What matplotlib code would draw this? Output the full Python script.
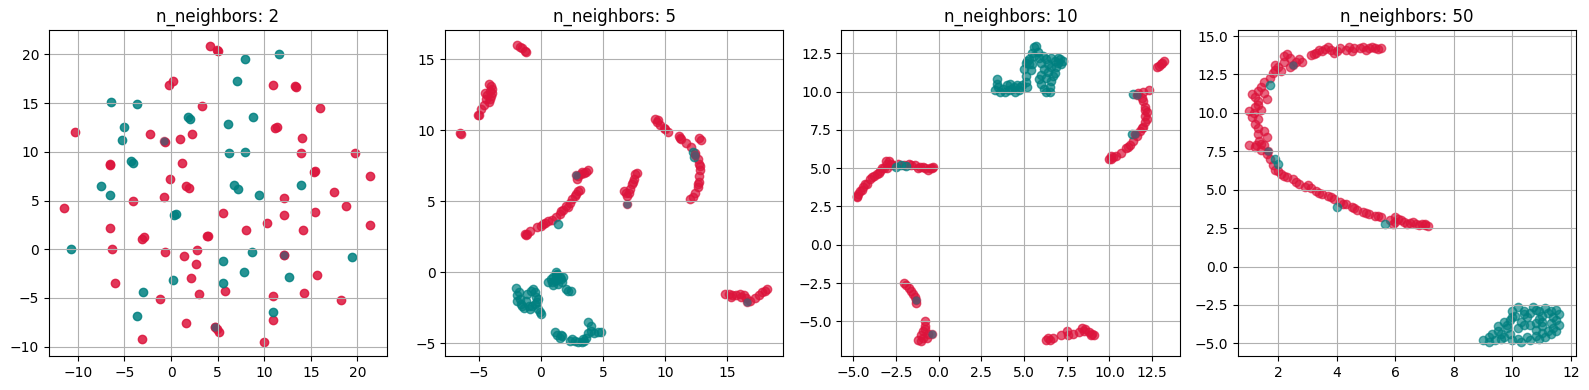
import matplotlib
matplotlib.use("Agg")
import matplotlib.pyplot as plt
import numpy as np

TITLES = ["n_neighbors: 2", "n_neighbors: 5", "n_neighbors: 10", "n_neighbors: 50"]
RED = "crimson"
TEAL = "teal"
MIXED = "#58536c"

# ── n_neighbors = 2 ─────────────────────────────────────────────────────────
nn2_red = [
    (4.2, 20.9), (5.0, 20.3), (4.9, 20.4), (-0.2, 16.9), (0.2, 17.3), (11.0, 16.9),
    (13.3, 16.8), (13.4, 16.7), (16.0, 14.5), (3.3, 14.7), (11.2, 12.4), (11.4, 12.5),
    (-10.3, 12.0), (-2.3, 11.8), (1.0, 11.3), (2.3, 11.8), (-0.6, 11.0), (14.1, 11.4),
    (13.9, 9.9), (19.7, 9.9), (-6.5, 8.6), (-6.6, 8.7), (1.2, 8.9), (15.3, 7.9),
    (15.5, 8.0), (21.4, 7.5), (-0.1, 7.2), (1.6, 6.5), (1.9, 6.3), (17.5, 5.9),
    (-0.7, 5.4), (12.1, 5.3), (-4.1, 4.9), (18.8, 4.4), (-11.5, 4.2), (5.6, 3.7),
    (12.1, 3.5), (15.5, 3.8), (-6.6, 2.2), (8.0, 2.0), (10.3, 2.7), (14.2, 2.0),
    (21.4, 2.5), (-3.1, 1.1), (-2.9, 1.3), (3.9, 1.4), (4.0, 1.4), (-6.3, 0.0),
    (-0.6, -0.3), (2.8, -0.1), (1.4, -0.7), (2.7, -1.5), (15.7, -2.6), (-6.0, -3.5),
    (2.1, -3.0), (5.8, -4.3), (3.0, -4.6), (14.3, -4.5), (-1.2, -5.1), (11.0, -4.8),
    (18.2, -5.2), (1.6, -7.6), (10.9, -7.3), (-3.1, -9.2), (5.1, -8.5), (4.9, -8.2),
    (10.0, -9.5), (12.1, -0.6), (4.7, -8.0),
]
nn2_teal = [
    (11.6, 20.0), (7.9, 19.5), (7.1, 17.3), (-6.4, 15.1), (-3.7, 14.9), (1.8, 13.6),
    (2.0, 13.4), (8.8, 13.6), (6.1, 12.9), (-5.0, 12.5), (-5.3, 11.2), (6.2, 9.9),
    (7.9, 10.0), (-4.3, 9.1), (-4.1, 8.9), (6.8, 6.6), (7.2, 6.2), (-7.5, 6.5),
    (-6.6, 5.6), (9.4, 5.6), (13.9, 6.6), (0.3, 3.5), (0.5, 3.6), (-10.7, 0.0),
    (8.7, -0.3), (19.4, -0.8), (5.6, -1.2), (0.2, -3.2), (7.8, -2.3), (12.7, -2.9),
    (-3.0, -4.4), (5.6, -3.5), (-3.6, -6.9), (11.0, -6.4),
]
nn2_mixed = [(-0.8, 11.1), (12.1, -0.6), (4.7, -8.0)]

# ── n_neighbors = 5 ─────────────────────────────────────────────────────────
nn5_red = [
    (-1.9, 16.0), (-1.7, 15.9), (-1.5, 15.8), (-1.3, 15.6), (-1.2, 15.5),
    (-4.2, 13.3), (-4.0, 13.1), (-4.1, 12.8), (-3.9, 12.9), (-4.3, 12.5), (-4.0, 12.4),
    (-4.4, 12.2), (-4.1, 12.2), (-4.6, 11.8), (-4.8, 11.5), (-5.0, 11.1), (-5.1, 11.1),
    (-4.2, 12.0), (-3.9, 12.6), (-4.5, 12.6),
    (-6.5, 9.8), (-6.4, 9.75),
    (-1.3, 2.7), (-1.1, 2.7), (-0.9, 2.9), (-0.3, 3.2), (0.0, 3.3), (0.3, 3.5),
    (0.6, 3.6), (0.9, 3.7), (1.2, 3.9), (1.5, 4.1), (1.8, 4.4), (2.0, 4.7), (2.3, 4.9),
    (2.5, 5.2), (2.8, 5.5), (3.0, 5.7), (3.0, 6.8), (3.2, 6.9), (3.5, 7.0), (3.8, 7.2),
    (2.9, 6.6), (-1.2, 2.6), (0.2, 3.4), (1.6, 4.3), (2.2, 4.6), (2.7, 5.4), (3.1, 5.8),
    (3.3, 7.1), (3.6, 7.1),
    (6.8, 5.6), (6.9, 5.4), (7.1, 5.6), (7.2, 5.9), (7.3, 6.2), (7.5, 6.6), (7.6, 6.9),
    (7.7, 7.0), (6.7, 5.7), (7.4, 6.4),
    (9.2, 10.8), (9.3, 10.6), (9.6, 10.4), (10.0, 10.1), (10.2, 9.9), (11.1, 9.6),
    (11.3, 9.4), (11.7, 9.1), (12.1, 8.8), (12.4, 8.4), (12.6, 8.0), (12.7, 7.6),
    (12.8, 7.2), (12.7, 6.8), (12.7, 6.4), (12.6, 6.0), (12.4, 5.6), (12.2, 5.3),
    (12.0, 5.2), (12.7, 9.5), (12.9, 9.3), (9.4, 10.7), (9.9, 10.2), (11.2, 9.5),
    (12.8, 7.5), (12.6, 6.2),
    (14.8, -1.5), (15.1, -1.5), (15.4, -1.6), (15.7, -1.6), (16.0, -1.5), (16.3, -1.6),
    (16.5, -1.8), (16.8, -2.0), (17.2, -1.8), (17.5, -1.6), (17.8, -1.4), (18.0, -1.3),
    (18.2, -1.2), (15.3, -1.7), (16.1, -1.7),
]
nn5_teal = [
    (1.4, 3.4), (12.2, 8.5), (12.3, 8.1),
    (-2.0, -1.1), (-1.8, -1.4), (-1.7, -1.9), (-1.9, -2.0), (-1.6, -2.2), (-1.4, -2.5),
    (-1.2, -2.0), (-1.1, -1.5), (-0.8, -1.3), (-0.5, -1.4), (-0.4, -1.7), (-0.2, -1.9),
    (-0.5, -2.2), (-0.7, -2.4), (-0.9, -2.6), (-0.1, -2.8), (0.0, -2.9), (-0.2, -2.6),
    (-1.9, -1.6), (-1.5, -2.4), (-0.6, -1.2), (-0.3, -2.1), (-1.0, -2.4),
    (0.6, -0.7), (0.8, -0.5), (1.0, -0.3), (1.1, -0.6), (1.2, -0.2), (1.3, -0.1),
    (1.5, -0.3), (1.6, -0.5), (1.4, -0.8), (1.0, -0.9), (1.8, -0.3), (2.0, -1.2),
    (2.2, -1.3), (2.4, -1.3), (0.9, -0.7), (1.3, -0.5), (1.7, -0.7), (1.2, 0.0),
    (1.1, -4.2), (1.3, -4.4), (1.5, -4.6), (1.7, -4.5), (2.3, -4.8), (2.7, -4.8),
    (3.0, -4.9), (3.3, -4.9), (3.6, -4.6), (3.8, -4.3), (4.0, -4.1), (3.8, -3.5),
    (4.0, -3.8), (4.3, -4.3), (4.6, -4.2), (4.8, -4.2), (2.5, -4.7), (3.4, -4.7),
    (3.5, -4.8), (1.6, -4.4),
]
nn5_mixed = [(2.8, 6.85), (6.9, 4.8), (12.4, 8.3), (16.6, -2.1)]

# ── n_neighbors = 10 ────────────────────────────────────────────────────────
nn10_red = [
    (-4.8, 3.1), (-4.7, 3.3), (-4.6, 3.5), (-4.4, 3.8), (-4.2, 4.0), (-4.0, 4.3),
    (-3.8, 4.5), (-3.6, 4.6), (-3.4, 4.8), (-3.2, 5.0), (-3.0, 5.3), (-3.1, 5.5),
    (-2.9, 5.5), (-2.7, 5.2), (-2.4, 5.3), (-2.0, 5.2), (-1.7, 5.3), (-1.4, 5.2),
    (-1.1, 5.1), (-0.8, 5.0), (-0.5, 5.0), (-0.3, 5.05),
    (-4.75, 3.2), (-4.5, 3.6), (-4.3, 4.0), (-3.9, 4.4), (-3.5, 4.7), (-3.3, 5.0),
    (-3.0, 5.0), (-2.8, 5.3), (-1.6, 5.2), (-1.2, 5.0), (-0.9, 5.1), (-0.6, 4.9),
    (-0.4, 5.0),
    (10.0, 5.6), (10.2, 5.7), (10.4, 5.8), (10.7, 6.0), (11.0, 6.3), (11.2, 6.5),
    (11.4, 6.8), (11.6, 7.1), (11.8, 7.4), (12.0, 7.7), (12.1, 8.0), (12.1, 8.4),
    (12.2, 8.7), (12.1, 9.0), (12.0, 9.4), (11.9, 9.6), (11.7, 9.9), (12.0, 10.0),
    (12.3, 10.1), (10.1, 5.8), (10.1, 5.6), (11.1, 6.4), (11.9, 7.6), (12.2, 8.2),
    (12.1, 8.8),
    (12.8, 11.6), (12.9, 11.7), (13.0, 11.8), (13.1, 11.9), (13.2, 12.0),
    (-2.0, -2.5), (-1.9, -2.6), (-1.7, -2.8), (-1.6, -3.0), (-1.5, -3.2), (-1.4, -3.4),
    (-1.3, -3.8),
    (-0.8, -5.0), (-0.8, -5.3), (-0.9, -5.6), (-1.0, -5.9), (-1.2, -6.2), (-1.0, -6.3),
    (-0.7, -6.1), (-0.6, -5.8), (-0.9, -6.1), (-0.8, -5.5),
    (6.3, -6.2), (6.5, -6.2), (6.7, -6.1), (7.2, -5.9), (7.5, -5.6), (7.6, -5.9),
    (7.9, -5.8), (8.2, -5.7), (8.4, -5.4), (8.6, -5.5), (8.8, -5.7), (9.0, -5.8),
    (9.1, -5.9), (6.4, -6.1), (8.5, -5.6), (8.9, -5.9),
]
nn10_teal = [
    (-2.5, 5.1), (-2.2, 5.2), (-1.9, 5.15), (11.4, 9.85), (11.3, 7.2),
    (3.4, 10.8), (3.4, 10.5), (3.3, 10.1), (3.6, 10.0), (3.8, 10.2), (4.0, 10.4),
    (4.2, 10.5), (4.4, 10.3), (4.5, 10.0), (4.7, 10.1), (4.9, 10.4), (5.1, 10.6),
    (5.1, 11.0), (5.0, 11.5), (5.1, 11.9), (5.3, 12.1), (5.5, 11.8), (5.6, 12.3),
    (5.6, 12.9), (5.7, 13.0), (5.8, 12.6), (6.1, 12.3), (6.3, 12.1), (6.0, 11.9),
    (6.6, 12.2), (6.8, 12.0), (7.0, 11.9), (7.2, 11.8), (6.9, 11.6), (6.2, 11.5),
    (6.4, 11.3), (6.3, 10.9), (6.6, 10.7), (6.5, 10.3), (6.3, 10.0), (6.0, 10.5),
    (5.9, 10.8), (6.7, 11.0), (7.1, 12.1), (5.4, 11.4), (4.8, 10.3),
    (3.5, 10.3), (3.9, 10.0), (4.1, 10.1), (4.3, 10.2), (4.6, 10.4), (5.2, 10.3),
    (5.3, 11.8), (5.5, 12.5), (5.9, 12.2), (6.4, 11.8), (6.6, 11.6), (6.8, 11.2),
    (6.5, 10.0), (6.2, 10.2), (7.3, 12.0), (7.0, 12.2), (5.2, 12.0), (6.0, 11.1),
]
nn10_mixed = [(11.6, 9.8), (11.5, 7.2), (-1.3, -3.6), (-0.4, -5.8)]

# ── n_neighbors = 50 ────────────────────────────────────────────────────────
nn50_red = [
    (5.3, 14.2), (5.2, 14.3), (5.0, 14.1), (4.8, 14.2), (4.6, 14.2), (4.3, 14.1),
    (4.1, 14.2), (4.0, 14.05), (3.8, 14.1), (3.6, 14.15), (3.5, 14.0), (3.3, 13.9),
    (3.1, 13.75), (2.6, 13.3), (2.4, 13.6), (2.3, 13.8), (2.2, 13.3), (2.0, 13.0),
    (1.9, 12.8), (1.8, 12.6), (1.7, 12.3), (1.5, 12.0), (1.4, 11.7), (1.3, 11.4),
    (1.2, 11.0), (1.3, 10.8), (1.2, 10.4), (1.15, 10.0), (1.1, 9.7), (1.2, 9.3),
    (1.3, 9.0), (1.3, 8.6), (1.35, 8.2), (1.2, 7.8), (1.4, 7.6), (1.5, 7.9),
    (1.6, 7.3), (1.7, 7.0), (1.8, 6.6), (1.9, 6.3), (2.1, 6.0), (2.3, 5.8),
    (2.5, 5.7), (2.7, 5.4), (2.9, 5.2), (3.1, 5.1), (3.3, 4.9), (3.5, 4.75),
    (3.7, 4.6), (3.9, 4.4), (4.1, 4.2), (4.3, 4.05), (4.5, 3.85), (4.7, 3.7),
    (4.9, 3.55), (5.1, 3.4), (5.3, 3.3), (5.5, 3.2), (5.8, 3.0), (6.0, 2.9),
    (6.1, 3.1), (6.3, 2.9), (6.5, 2.85), (6.7, 2.75), (6.9, 2.8), (7.0, 2.7),
    (7.1, 2.65), (5.5, 14.2), (2.8, 13.3),
    (1.0, 10.1), (1.4, 10.2), (1.1, 11.2), (1.5, 11.3), (1.3, 9.6), (1.4, 8.0),
    (1.6, 8.4), (1.25, 7.9), (1.0, 7.9), (1.5, 8.8), (1.3, 10.5), (1.6, 10.9),
    (2.1, 12.7), (1.9, 13.1), (2.4, 13.0), (2.7, 13.5), (2.2, 13.7), (3.2, 13.8),
    (3.4, 14.1), (3.7, 14.3), (3.9, 13.9), (4.4, 14.3), (4.5, 14.0), (4.9, 14.3),
    (5.1, 14.2), (5.4, 14.15),
    (2.0, 6.2), (2.2, 5.9), (2.6, 5.5), (3.0, 5.3), (3.4, 4.8), (3.8, 4.5),
    (4.2, 4.1), (4.6, 3.8), (5.0, 3.5), (5.4, 3.3), (5.9, 2.8), (6.2, 3.0),
    (6.0, 3.2), (6.4, 2.8), (6.8, 2.7), (6.6, 2.9), (7.0, 2.8),
]
nn50_teal = [
    (1.7, 11.8), (1.9, 7.0), (2.0, 6.7), (4.0, 3.9), (5.65, 2.75),
    (9.0, -4.8), (9.2, -4.6), (9.3, -4.4), (9.5, -4.2), (9.5, -3.9), (9.7, -3.6),
    (9.9, -3.5), (10.0, -2.9), (10.2, -2.6), (10.4, -2.9), (10.5, -3.3), (10.7, -2.6),
    (10.9, -2.9), (11.0, -3.2), (11.1, -2.7), (11.3, -2.9), (11.5, -2.8), (11.6, -3.1),
    (11.5, -3.5), (11.6, -3.8), (11.4, -4.0), (11.2, -4.2), (11.0, -3.9), (10.8, -3.7),
    (10.6, -3.8), (10.4, -3.8), (10.2, -4.0), (9.9, -4.4), (9.7, -4.6), (10.0, -4.8),
    (10.3, -4.9), (10.6, -4.8), (10.9, -4.7), (11.1, -4.6), (11.0, -4.3), (9.4, -4.8),
    (9.8, -4.0), (10.1, -3.2), (10.3, -3.6), (10.9, -3.4),
    (9.6, -4.7), (9.2, -4.9), (10.2, -4.7), (10.5, -4.6), (10.8, -4.5), (11.3, -4.4),
    (11.4, -3.3), (11.2, -3.0), (10.6, -3.0), (10.8, -2.8), (10.0, -3.3), (9.8, -3.8),
    (9.6, -4.4), (10.4, -3.1), (11.0, -3.6), (11.3, -3.7), (11.5, -4.2), (10.8, -4.1),
]
nn50_mixed = [(2.5, 13.1), (1.65, 7.5)]

XLIMS = [(-13.1, 23.2), (-7.7, 19.5), (-5.68, 14.12), (0.61, 12.17)]
YLIMS = [(-10.96, 22.5), (-5.89, 17.07), (-7.26, 14.02), (-5.82, 15.39)]
ALPHAS = [0.85, 0.7, 0.7, 0.65]
PANELS = [
    (nn2_red, nn2_teal, nn2_mixed),
    (nn5_red, nn5_teal, nn5_mixed),
    (nn10_red, nn10_teal, nn10_mixed),
    (nn50_red, nn50_teal, nn50_mixed),
]


def main() -> None:
    fig, axes = plt.subplots(1, 4, figsize=(15.89, 3.9), dpi=100)
    fig.subplots_adjust(left=0.0308, right=0.9918, top=0.923, bottom=0.0872, wspace=0.1716)
    for ax, (red, teal, mixed), title, xl, yl, a in zip(
        axes, PANELS, TITLES, XLIMS, YLIMS, ALPHAS
    ):
        r = np.array(red)
        t = np.array(teal)
        m = np.array(mixed)
        ax.scatter(r[:, 0], r[:, 1], color=RED, alpha=a)
        ax.scatter(t[:, 0], t[:, 1], color=TEAL, alpha=a)
        ax.scatter(m[:, 0], m[:, 1], color=RED, alpha=0.5)
        ax.scatter(m[:, 0], m[:, 1], color=MIXED, alpha=0.85, linewidths=0)
        ax.set_xlim(*xl)
        ax.set_ylim(*yl)
        ax.set_title(title)
        ax.grid(True)
    fig.savefig("out.png", dpi=100)
    plt.close(fig)


if __name__ == "__main__":
    main()
